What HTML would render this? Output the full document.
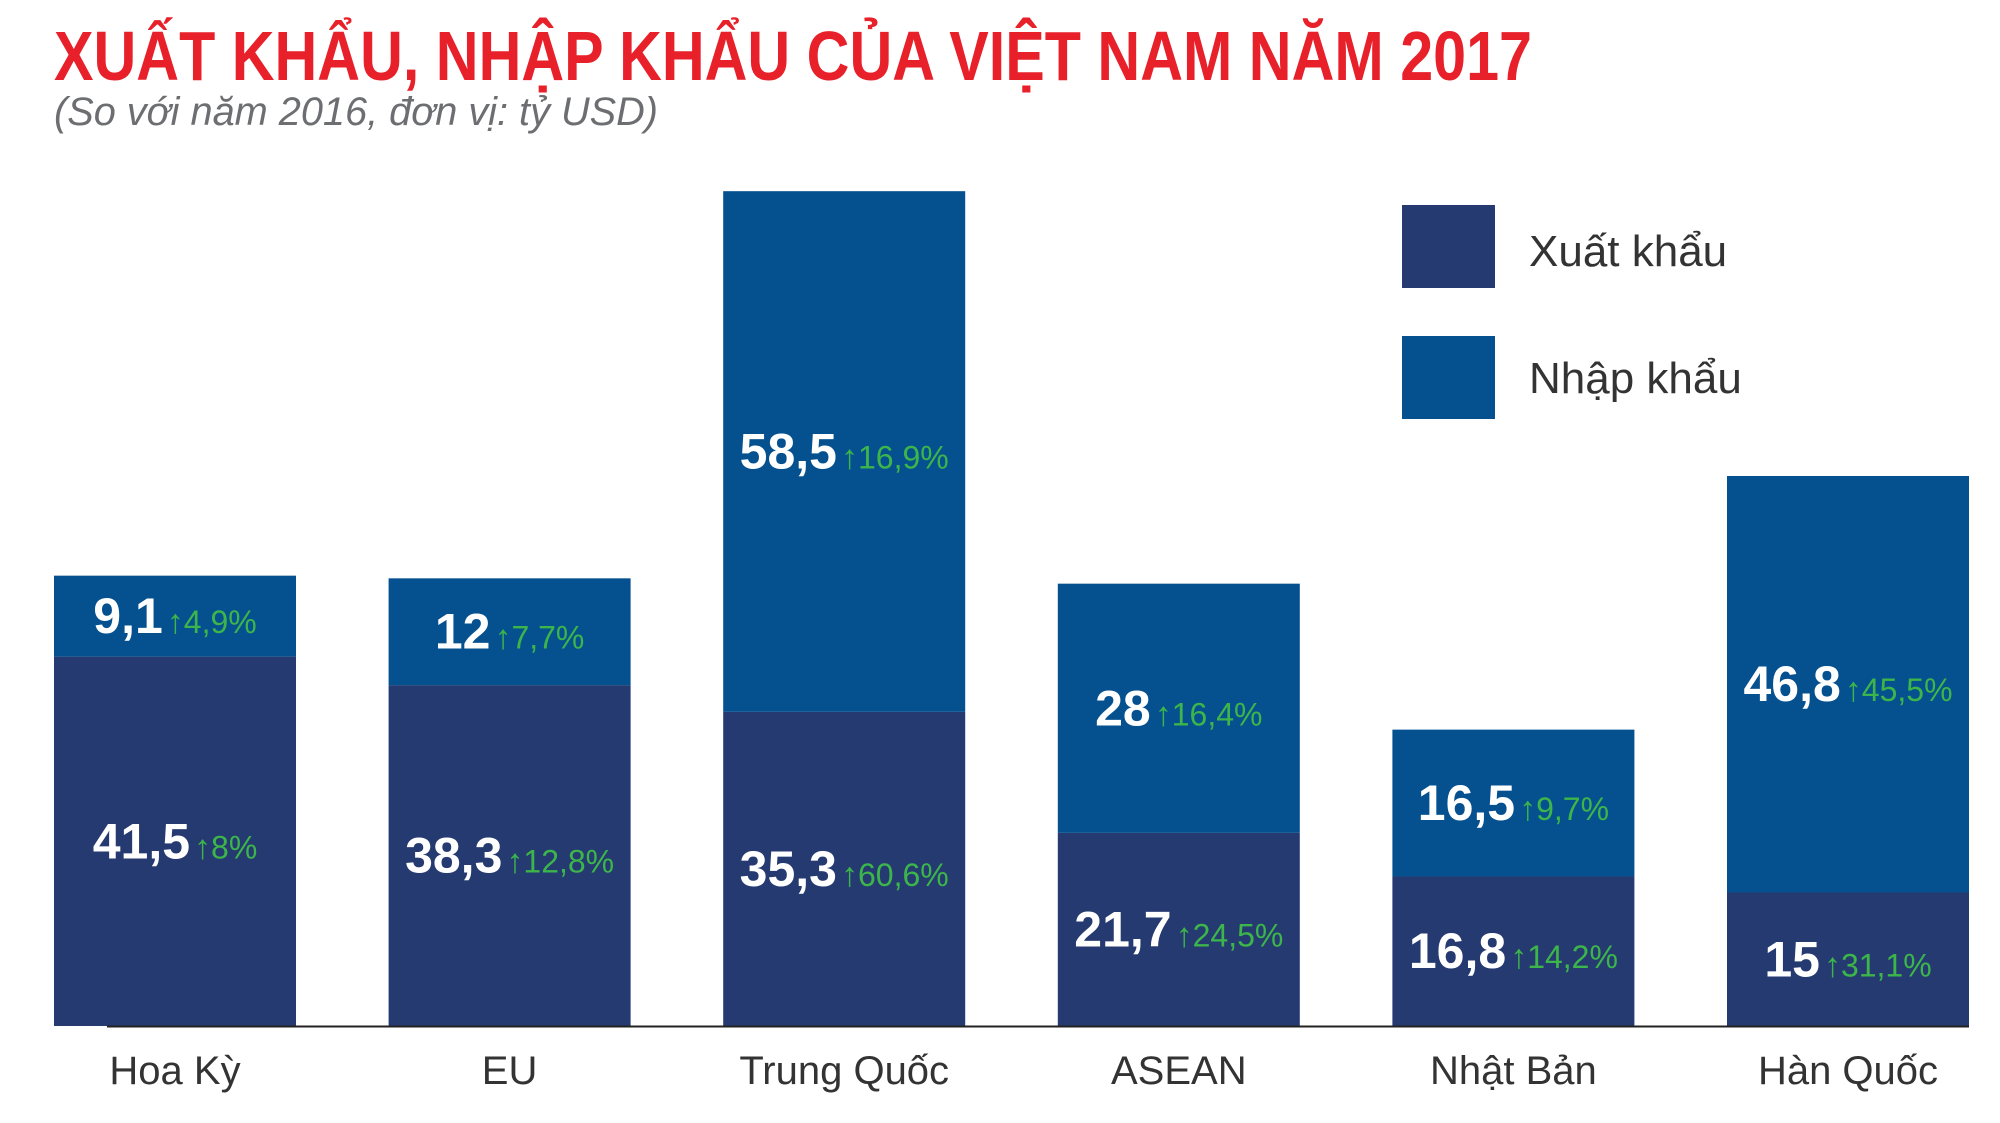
<!DOCTYPE html>
<html><head><meta charset="utf-8"><style>
html,body{margin:0;padding:0;background:#fff}
svg{display:block}
text{font-family:"Liberation Sans","DejaVu Sans",sans-serif}
</style></head><body>
<svg id="chart" width="2000" height="1123" viewBox="0 0 2000 1123">
<text x="54" y="80" font-size="70" font-weight="bold" fill="#e8202a" textLength="1478" lengthAdjust="spacingAndGlyphs">XUẤT KHẨU, NHẬP KHẨU CỦA VIỆT NAM NĂM 2017</text>
<text x="54" y="125" font-size="40" font-style="italic" fill="#6d6e71" textLength="604" lengthAdjust="spacingAndGlyphs">(So với năm 2016, đơn vị: tỷ USD)</text>
<g>
<rect x="1402" y="205" width="93" height="83" fill="#253a70"/>
<text x="1529" y="266" font-size="44" fill="#333">Xuất khẩu</text>
<rect x="1402" y="336" width="93" height="83" fill="#05508f"/>
<text x="1529" y="393" font-size="44" fill="#333">Nhập khẩu</text>
</g>
<g id="bars"></g>
<line x1="107" y1="1026.5" x2="1969" y2="1026.5" stroke="#222" stroke-width="2"/>
</svg>
<script>
const categories = ["Hoa Kỳ","EU","Trung Quốc","ASEAN","Nhật Bản","Hàn Quốc"];
const exportValues = [41.5,38.3,35.3,21.7,16.8,15];
const importValues = [9.1,12,58.5,28,16.5,46.8];
const exportLabels = ["41,5","38,3","35,3","21,7","16,8","15"];
const importLabels = ["9,1","12","58,5","28","16,5","46,8"];
const exportGrowth = ["8%","12,8%","60,6%","24,5%","14,2%","31,1%"];
const importGrowth = ["4,9%","7,7%","16,9%","16,4%","9,7%","45,5%"];

const NS = "http://www.w3.org/2000/svg";
const baseY = 1026, unit = 8.9, x0 = 54, step = 334.6, bw = 242;
const yScale = v => baseY - v * unit;
const xScale = i => x0 + i * step;
const g = document.getElementById("bars");
function mk(tag, attrs){ const e = document.createElementNS(NS, tag); for (const k in attrs) e.setAttribute(k, attrs[k]); return e; }
function label(cx, cy, val, pct, name){
  const t = mk("text", {x: cx, y: cy + 17, "text-anchor": "middle"});
  
  
  const a = mk("tspan", {"font-size": 50, "font-weight": "bold", fill: "#fff"}); a.textContent = val;
  const b = mk("tspan", {"font-size": 34, fill: "#3cb54a", dx: 4, "font-weight": "bold"}); b.textContent = "↑";
  const c = mk("tspan", {"font-size": 32, fill: "#3cb54a"}); c.textContent = pct;
  t.appendChild(a); t.appendChild(b); t.appendChild(c);
  g.appendChild(t);
}
categories.forEach((cat, i) => {
  const x = xScale(i);
  const ye = yScale(exportValues[i]);
  const yi = yScale(exportValues[i] + importValues[i]);
  const re = mk("rect", {x: x, y: ye, width: bw, height: baseY - ye, fill: "#253a70"});
  
  
  g.appendChild(re);
  const ri = mk("rect", {x: x, y: yi, width: bw, height: ye - yi, fill: "#05508f"});
  
  
  g.appendChild(ri);
  label(x + bw/2, (ye + baseY)/2, exportLabels[i], exportGrowth[i], 'export-value-label');
  label(x + bw/2, (yi + ye)/2, importLabels[i], importGrowth[i], 'import-value-label');
  const ct = mk("text", {x: x + bw/2, y: 1084, "text-anchor": "middle", "font-size": 40, fill: "#333"});
  
  
  ct.textContent = cat;
  g.appendChild(ct);
});
</script>
</body></html>
